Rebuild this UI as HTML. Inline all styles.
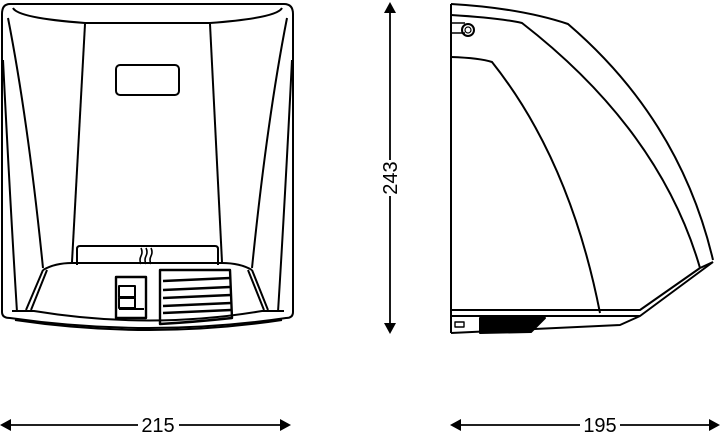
<!DOCTYPE html>
<html><head><meta charset="utf-8"><style>
html,body{margin:0;padding:0;background:#fff;width:720px;height:433px;overflow:hidden}
svg{display:block}
text{font-family:"Liberation Sans",sans-serif;fill:#000}
</style></head><body>
<svg width="720" height="433" viewBox="0 0 720 433" fill="none" stroke="#000" stroke-width="2" stroke-linejoin="round">
<!-- FRONT VIEW -->
<path d="M10,4 L284,4 Q293,4 293,14 L293,312 Q293,318 286,318 Q150,338 10,318 Q2,318 2,312 L2,14 Q2,4 10,4 Z"/>
<path d="M13,8 Q18,18 85,23 L210,23 Q277,18 282,8"/>
<path d="M85,24 L72,262"/>
<path d="M210,24 L222,262"/>
<rect x="116" y="65" width="63" height="30" rx="4"/>
<path d="M8,18 Q28,120 43,268"/>
<path d="M287,18 Q267,120 252,268"/>
<path d="M3,60 Q10,200 17,312"/>
<path d="M292,60 Q285,200 278,312"/>
<path d="M77,265 L77,249 Q77,246 80,246 L215,246 Q218,246 218,249 L218,265"/>
<path d="M141,248 q2,4 0,8 q-2,4 0,8 M146,248 q2,4 0,8 q-2,4 0,8 M151,248 q2,4 0,8 q-2,4 0,8" stroke-width="1.6"/>
<path d="M43,270 Q55,263 72,263 L222,263 Q240,263 252,270"/>
<path d="M43,270 L26,310 M47,270 L31,310"/>
<path d="M252,270 L268,310 M248,270 L264,310"/>
<path d="M12,311 L34,311 Q150,330 262,311 L284,311"/>
<path d="M15,320 Q150,340 282,320"/>
<rect x="116" y="277" width="30" height="41" stroke-width="2.4"/>
<rect x="119" y="286" width="16" height="11"/>
<rect x="119" y="298" width="16" height="10"/>
<path d="M119,309 L144,309"/>
<path d="M160,270 L230,270 L232,318 Q195,322 160,324 Z" stroke-width="2.4"/>
<path d="M163,281 L230,278 M163,290 L230,287 M163,298 L231,295 M163,306 L231,303 M163,313 L231,310" stroke-width="2.4"/>
<!-- SIDE VIEW -->
<path d="M451,4 L451,333"/>
<path d="M451,4 Q520,8 568,24 Q680,120 713,260"/>
<path d="M451,15 Q500,18 522,23 Q660,130 700,268"/>
<path d="M451,57 Q480,58 492,62 Q570,160 600,313"/>
<path d="M451,310 L640,310 L700,268"/>
<path d="M451,316 L640,316 L713,262"/>
<path d="M640,316 L620,325 L451,333"/>
<path d="M700,268 L713,262"/>
<path d="M480,318 L545,318 L531,332 L480,333 Z" fill="#000"/>
<rect x="455" y="322" width="9" height="5" stroke-width="1.4"/>
<path d="M451,23 L465,23 M451,33 L465,33" stroke-width="1.4"/>
<circle cx="468" cy="30" r="6"/>
<circle cx="468" cy="30" r="3" stroke-width="1.2"/>
<!-- DIMENSIONS -->
<g stroke-width="1.8">
<path d="M390,10 L390,160 M390,196 L390,326"/>
<path d="M10,425 L138,425 M179,425 L281,425"/>
<path d="M459,425 L580,425 M620,425 L711,425"/>
</g>
<g fill="#000" stroke="none">
<path d="M390,2 L384,13 L396,13 Z"/>
<path d="M390,334 L384,323 L396,323 Z"/>
<path d="M0,425 L11,419 L11,431 Z"/>
<path d="M291,425 L280,419 L280,431 Z"/>
<path d="M450,425 L461,419 L461,431 Z"/>
<path d="M720,425 L709,419 L709,431 Z"/>
</g>
<text x="158" y="432" font-size="20" text-anchor="middle" stroke="none">215</text>
<text x="600" y="432" font-size="20" text-anchor="middle" stroke="none">195</text>
<text transform="translate(397,178) rotate(-90)" font-size="20" text-anchor="middle" stroke="none">243</text>
</svg>
</body></html>
